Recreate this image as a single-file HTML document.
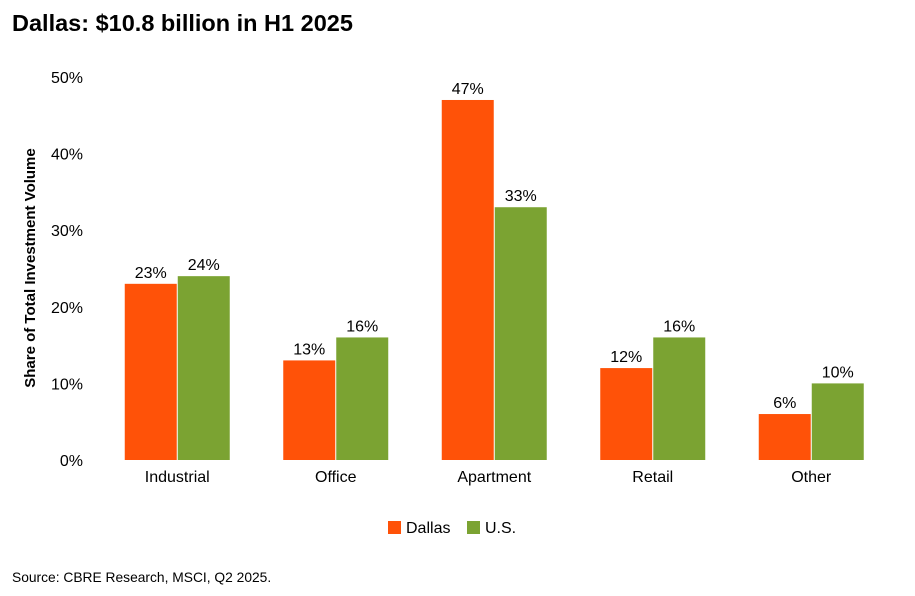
<!DOCTYPE html>
<html><head><meta charset="utf-8"><style>
body{margin:0;background:#fff;font-family:"Liberation Sans",Arial,sans-serif;}
#wrap{position:relative;width:915px;height:596px;overflow:hidden;}
</style></head><body>
<div id="wrap">
<svg id="chart" width="915" height="596"></svg>
</div>
<script>
const categories=["Industrial","Office","Apartment","Retail","Other"];
const dallasValues=[23,13,47,12,6];
const usValues=[24,16,33,16,10];
const yTicks=[0,10,20,30,40,50];
const seriesNames=["Dallas","U.S."];

const NS="http://www.w3.org/2000/svg";
const svg=document.getElementById('chart');
const y0=460,y1=77,yMax=50,plotL=98,band=158.5,barW=52,gap=1;
const colors=["#FF5208","#7BA332"];
function yScale(v){return y0-(v/yMax)*(y0-y1);}
function xCenter(i){return plotL+band*(i+0.5);}
function mk(tag,attrs,text){const e=document.createElementNS(NS,tag);for(const k in attrs)e.setAttribute(k,attrs[k]);if(text!==undefined)e.textContent=text;svg.appendChild(e);return e;}

let t=mk('text',{x:12,y:31,'font-size':23.5,'font-weight':'bold',fill:'#000'},'Dallas: $10.8 billion in H1 2025');



t=mk('text',{x:0,y:0,'font-size':15,'font-weight':'bold',fill:'#000','text-anchor':'middle',transform:'translate(35,268) rotate(-90)'},'Share of Total Investment Volume');



yTicks.forEach(v=>{
  const e=mk('text',{x:83,y:yScale(v)+6,'font-size':16,'text-anchor':'end',fill:'#000'},v+'%');
  
  
});

const series=[dallasValues,usValues];
categories.forEach((c,i)=>{
  const cx=xCenter(i);
  series.forEach((vals,s)=>{
    const x=s===0?cx-gap/2-barW:cx+gap/2;
    const yy=yScale(vals[i]);
    const r=mk('rect',{x:x,y:yy,width:barW,height:y0-yy,fill:colors[s]});
    
    
    const l=mk('text',{x:x+barW/2,y:yy-6,'font-size':16,'text-anchor':'middle',fill:'#000'},vals[i]+'%');
    
    
  });
  const xl=mk('text',{x:cx,y:482,'font-size':16,'text-anchor':'middle',fill:'#000'},c);
  
  
});

const legendX=[388,467];
seriesNames.forEach((n,s)=>{
  const r=mk('rect',{x:legendX[s],y:521,width:13,height:13,fill:colors[s]});
  
  
  const l=mk('text',{x:legendX[s]+18,y:533,'font-size':16,fill:'#000'},n);
  
  
});

t=mk('text',{x:12,y:582,'font-size':13.8,fill:'#000'},'Source: CBRE Research, MSCI, Q2 2025.');


</script>
</body></html>
